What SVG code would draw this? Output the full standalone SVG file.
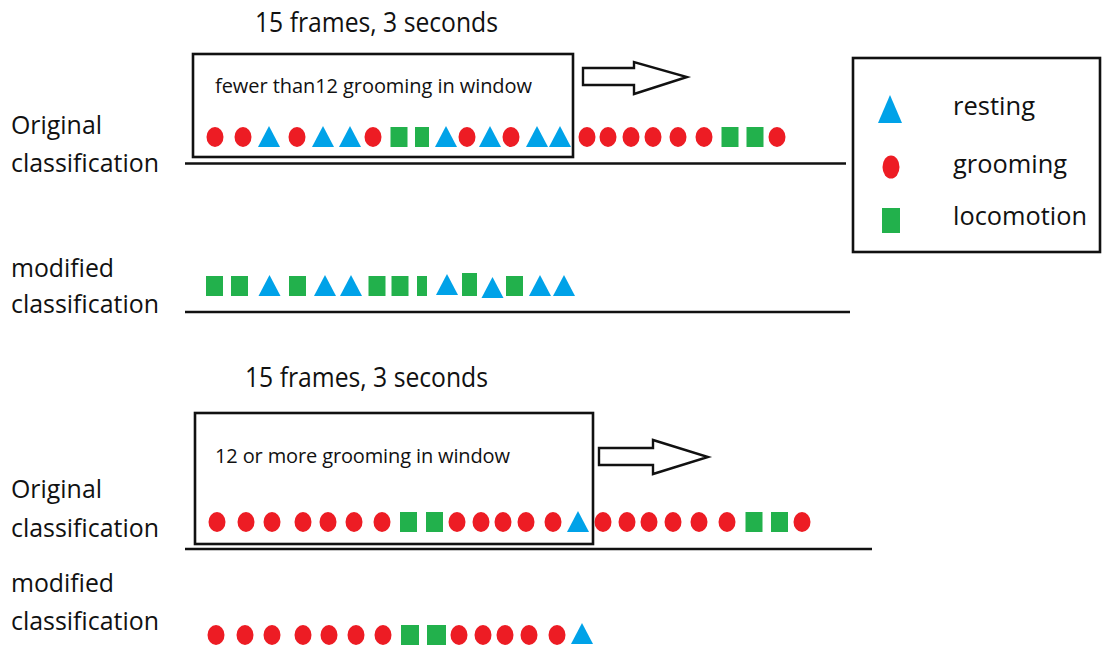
<svg xmlns="http://www.w3.org/2000/svg" width="1105" height="659" viewBox="0 0 1105 659">
  <style>
    .lbl { font-family: "Open Sans", "Liberation Sans", sans-serif; font-size: 26px; fill: #111; }
    .ttl { font-family: "Open Sans", "Liberation Sans", sans-serif; font-size: 27px; fill: #111; }
    .win { font-family: "Open Sans", "Liberation Sans", sans-serif; font-size: 20px; fill: #111; }
    .frame { fill: none; stroke: #111; stroke-width: 2.6; }
    .axis { stroke: #111; stroke-width: 2.4; fill: none; }
    .arrow { fill: #fff; stroke: #111; stroke-width: 2.4; stroke-linejoin: miter; }
    .groom { fill: #ED1C24; }
    .rest { fill: #00A2E8; }
    .loco { fill: #22B14C; }
  </style>
  <defs>
    <ellipse id="g" class="groom" cx="0" cy="0" rx="8.5" ry="10"/>
    <polygon id="t" class="rest" points="0,-11 11,10 -11,10"/>
    <rect id="s" class="loco" x="-8.5" y="-10" width="17" height="20"/>
  </defs>

  <!-- titles -->
  <text class="ttl" x="255" y="32" textLength="243" lengthAdjust="spacingAndGlyphs">15 frames, 3 seconds</text>
  <text class="ttl" x="245" y="387" textLength="243" lengthAdjust="spacingAndGlyphs">15 frames, 3 seconds</text>

  <!-- row labels -->
  <g id="labels">
    <text class="lbl" x="11" y="134" textLength="91" lengthAdjust="spacingAndGlyphs">Original</text>
    <text class="lbl" x="11" y="172" textLength="148" lengthAdjust="spacingAndGlyphs">classification</text>
    <text class="lbl" x="11" y="277" textLength="103" lengthAdjust="spacingAndGlyphs">modified</text>
    <text class="lbl" x="11" y="313" textLength="148" lengthAdjust="spacingAndGlyphs">classification</text>
    <text class="lbl" x="11" y="498" textLength="91" lengthAdjust="spacingAndGlyphs">Original</text>
    <text class="lbl" x="11" y="537" textLength="148" lengthAdjust="spacingAndGlyphs">classification</text>
    <text class="lbl" x="11" y="592" textLength="103" lengthAdjust="spacingAndGlyphs">modified</text>
    <text class="lbl" x="11" y="630" textLength="148" lengthAdjust="spacingAndGlyphs">classification</text>
  </g>

  <!-- baselines under each sequence -->
  <g id="axes">
    <line class="axis" x1="185" y1="163.5" x2="846" y2="163.5"/>
    <line class="axis" x1="185" y1="312" x2="850" y2="312"/>
    <line class="axis" x1="185" y1="549" x2="872" y2="549"/>
  </g>

  <!-- sliding window 1 -->
  <g id="window1">
    <rect class="frame" x="193" y="54" width="380" height="103"/>
    <text class="win" x="215" y="93" textLength="317">fewer than12 grooming in window</text>
  </g>

  <!-- sliding window 2 -->
  <g id="window2">
    <rect class="frame" x="195" y="413" width="398" height="131"/>
    <text class="win" x="215" y="463" textLength="295">12 or more grooming in window</text>
  </g>

  <!-- window shift arrows -->
  <g id="connectors">
    <polygon class="arrow" points="583,68 634,68 634,62 687,77 634,94 634,85 583,85"/>
    <polygon class="arrow" points="599,448 653,448 653,440 708,457 653,474 653,465 599,465"/>
  </g>

  <!-- sequence 1: original -->
  <g id="seq1-original">
    <use href="#g" x="215" y="137"/>
    <use href="#g" x="243" y="137"/>
    <use href="#t" x="269" y="137"/>
    <use href="#g" x="297" y="137"/>
    <use href="#t" x="323" y="137"/>
    <use href="#t" x="350" y="137"/>
    <use href="#g" x="373" y="137"/>
    <use href="#s" x="399" y="137"/>
    <rect class="loco" x="415" y="127" width="14" height="20"/>
    <use href="#t" x="446" y="137"/>
    <use href="#g" x="467" y="137"/>
    <use href="#t" x="490" y="137"/>
    <use href="#g" x="511" y="137"/>
    <use href="#t" x="537" y="137"/>
    <use href="#t" x="560" y="137"/>
    <use href="#g" x="587" y="137"/>
    <use href="#g" x="608" y="137"/>
    <use href="#g" x="631" y="137"/>
    <use href="#g" x="653" y="137"/>
    <use href="#g" x="678" y="137"/>
    <use href="#g" x="704" y="137"/>
    <use href="#s" x="730" y="137"/>
    <use href="#s" x="755" y="137"/>
    <use href="#g" x="777" y="137"/>
  </g>

  <!-- sequence 1: modified -->
  <g id="seq1-modified">
    <use href="#s" x="214.5" y="286"/>
    <use href="#s" x="239.5" y="286"/>
    <use href="#t" x="269.5" y="286"/>
    <use href="#s" x="297.5" y="286"/>
    <use href="#t" x="325" y="286"/>
    <use href="#t" x="351" y="286"/>
    <use href="#s" x="377" y="286"/>
    <use href="#s" x="400" y="286"/>
    <rect class="loco" x="417" y="276" width="10" height="20"/>
    <use href="#t" x="447" y="285"/>
    <rect class="loco" x="462" y="273" width="15" height="23"/>
    <use href="#t" x="492.5" y="288"/>
    <use href="#s" x="514.5" y="286"/>
    <use href="#t" x="540" y="286"/>
    <use href="#t" x="564" y="286"/>
  </g>

  <!-- sequence 2: original -->
  <g id="seq2-original">
    <use href="#g" x="217" y="522"/>
    <use href="#g" x="246" y="522"/>
    <use href="#g" x="272" y="522"/>
    <use href="#g" x="303" y="522"/>
    <use href="#g" x="328" y="522"/>
    <use href="#g" x="354" y="522"/>
    <use href="#g" x="382" y="522"/>
    <use href="#s" x="408.5" y="522"/>
    <use href="#s" x="434.5" y="522"/>
    <use href="#g" x="457" y="522"/>
    <use href="#g" x="481" y="522"/>
    <use href="#g" x="503" y="522"/>
    <use href="#g" x="526" y="522"/>
    <use href="#g" x="553" y="522"/>
    <use href="#t" x="578" y="522"/>
    <use href="#g" x="603" y="522"/>
    <use href="#g" x="627" y="522"/>
    <use href="#g" x="649" y="522"/>
    <use href="#g" x="673" y="522"/>
    <use href="#g" x="699" y="522"/>
    <use href="#g" x="727" y="522"/>
    <use href="#s" x="754" y="522"/>
    <use href="#s" x="779.5" y="522"/>
    <use href="#g" x="802" y="522"/>
  </g>

  <!-- sequence 2: modified -->
  <g id="seq2-modified">
    <use href="#g" x="216" y="635"/>
    <use href="#g" x="245" y="635"/>
    <use href="#g" x="272" y="635"/>
    <use href="#g" x="303" y="635"/>
    <use href="#g" x="329" y="635"/>
    <use href="#g" x="356" y="635"/>
    <use href="#g" x="383" y="635"/>
    <rect class="loco" x="401" y="625" width="18" height="20"/>
    <rect class="loco" x="427" y="625" width="19" height="20"/>
    <use href="#g" x="459" y="635"/>
    <use href="#g" x="483" y="635"/>
    <use href="#g" x="505" y="635"/>
    <use href="#g" x="529" y="635"/>
    <use href="#g" x="557" y="635"/>
    <use href="#t" x="582" y="634"/>
  </g>

  <!-- legend -->
  <g id="legend">
    <rect class="frame" x="853" y="58" width="247" height="194"/>
    <polygon class="rest" points="890,95 902,123 878,123"/>
    <text class="lbl" x="953" y="115" textLength="82" lengthAdjust="spacingAndGlyphs">resting</text>
    <ellipse class="groom" cx="891" cy="167" rx="8.5" ry="11.5"/>
    <text class="lbl" x="953" y="173" textLength="114" lengthAdjust="spacingAndGlyphs">grooming</text>
    <rect class="loco" x="882" y="208" width="18" height="25"/>
    <text class="lbl" x="953" y="225" textLength="134" lengthAdjust="spacingAndGlyphs">locomotion</text>
  </g>
</svg>
